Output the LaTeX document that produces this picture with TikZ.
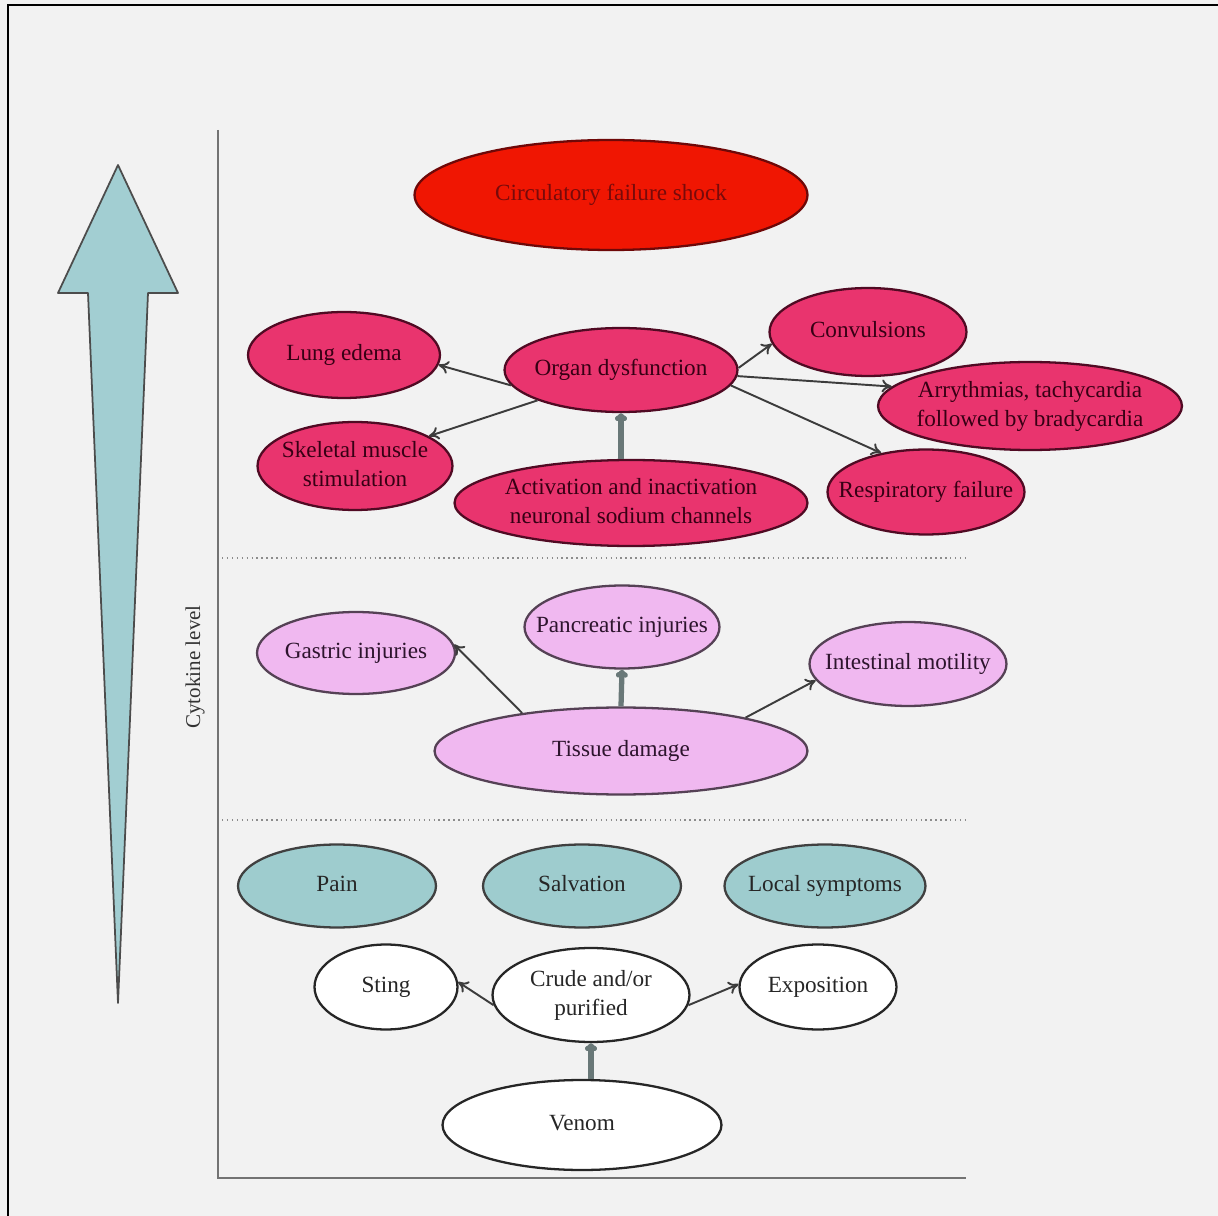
\documentclass[tikz,border=0pt]{standalone}
\usepackage{fontspec}
\setmainfont{Liberation Serif}
\usepackage{xcolor}
\usepackage{tikz}
\usetikzlibrary{arrows.meta, shapes.geometric}

\definecolor{paper}{RGB}{242,242,242}
\definecolor{shockred}{RGB}{240,22,2}
\definecolor{shockline}{RGB}{110,8,8}
\definecolor{shocktext}{RGB}{120,10,10}
\definecolor{organpink}{RGB}{233,52,110}
\definecolor{organline}{RGB}{80,10,35}
\definecolor{organtext}{RGB}{55,0,20}
\definecolor{tissuepink}{RGB}{240,184,240}
\definecolor{tissueline}{RGB}{85,65,85}
\definecolor{tissuetext}{RGB}{45,20,45}
\definecolor{localteal}{RGB}{158,204,206}
\definecolor{levelteal}{RGB}{162,206,210}
\definecolor{axisgray}{RGB}{115,115,115}
\definecolor{linkgray}{RGB}{60,60,60}
\definecolor{shaftgray}{RGB}{105,120,120}

% text centred in an oval without widening it
\newcommand{\otext}[1]{\makebox[0pt]{\begin{tabular}{@{}c@{}}#1\end{tabular}}}

\begin{document}
\begin{tikzpicture}[
  x=0.02cm, y=-0.02cm,
  oval/.style={ellipse, draw, line width=1.3pt, inner sep=0pt, font=\fontsize{13.2}{17}\selectfont},
  shockov/.style={oval, fill=shockred, draw=shockline, text=shocktext},
  organov/.style={oval, fill=organpink, draw=organline, text=organtext},
  tissueov/.style={oval, fill=tissuepink, draw=tissueline, text=tissuetext},
  localov/.style={oval, fill=localteal, draw=black!75, text=black!85},
  startov/.style={oval, fill=white, draw=black!85, text=black!85},
  arrow/.style={-{To[length=2mm, width=2.6mm]}, line width=1.1pt, draw=linkgray},
  shaft/.style={-{To[length=1.6mm, width=2.4mm]}, line width=3pt, draw=shaftgray},
  layer/.style={dotted, line width=0.8pt, draw=black!45},
  axisline/.style={line width=1.7pt, draw=axisgray}
]
\fill[paper] (0,0) rectangle (1218,1216);
\useasboundingbox (0,0) rectangle (1218,1216);
\draw[line width=1.7pt] (8,1216) -- (8,5) -- (1218,5);

% cytokine level arrow and axes
\filldraw[fill=levelteal, draw=black!70, line width=1pt, line join=round]
  (118,165) -- (178,293) -- (148,293) -- (118,1003) -- (88,293) -- (58,293) -- cycle;
\node[rotate=90, font=\fontsize{12}{14}\selectfont, text=black!80] (cyto) at (195,667) {Cytokine level};
\draw[axisline] (218,130) -- (218,1178) -- (966,1178);
\draw[layer] (222,558) -- (965,558);
\draw[layer] (222,820) -- (965,820);

% systemic level
\node[shockov, minimum width=7.86cm, minimum height=2.2cm] (shock) at (611,195) {\otext{Circulatory failure shock}};
\node[organov, minimum width=3.84cm, minimum height=1.72cm] (lung) at (344,355) {\otext{Lung edema}};
\node[organov, minimum width=4.66cm, minimum height=1.68cm] (organ) at (621,370) {\otext{Organ dysfunction}};
\node[organov, minimum width=3.94cm, minimum height=1.76cm] (conv) at (868,332) {\otext{Convulsions}};
\node[organov, minimum width=6.08cm, minimum height=1.76cm] (arry) at (1030,406) {\otext{Arrythmias, tachycardia\\followed by bradycardia}};
\node[organov, minimum width=3.9cm, minimum height=1.76cm] (skel) at (355,466) {\otext{Skeletal muscle\\stimulation}};
\node[organov, minimum width=7.06cm, minimum height=1.72cm] (act) at (631,503) {\otext{Activation and inactivation\\neuronal sodium channels}};
\node[organov, minimum width=3.94cm, minimum height=1.7cm] (resp) at (926,492) {\otext{Respiratory failure}};

\draw[arrow] (organ.188) -- (lung.-6);
\draw[arrow] (organ.200) -- (skel.22);
\draw[arrow] (organ.1) -- (conv.187);
\draw[arrow] (organ.-3) -- (arry.172);
\draw[arrow] (organ.-8) -- (resp.139);
\draw[shaft] (act.north -| organ.south) -- (organ.south);

% tissue level
\node[tissueov, minimum width=3.96cm, minimum height=1.64cm] (gastric) at (356,653) {\otext{Gastric injuries}};
\node[tissueov, minimum width=3.9cm, minimum height=1.66cm] (panc) at (622,627) {\otext{Pancreatic injuries}};
\node[tissueov, minimum width=3.94cm, minimum height=1.68cm] (intest) at (908,664) {\otext{Intestinal motility}};
\node[tissueov, minimum width=7.46cm, minimum height=1.74cm] (tissue) at (621,751) {\otext{Tissue damage}};

\draw[arrow] (tissue.159) -- (gastric.5);
\draw[shaft] (tissue.north) -- (panc.south);
\draw[arrow] (tissue.15) -- (intest.190);

% local level
\node[localov, minimum width=3.96cm, minimum height=1.66cm] (pain) at (337,886) {\otext{Pain}};
\node[localov, minimum width=3.96cm, minimum height=1.66cm] (saliv) at (582,886) {\otext{Salvation}};
\node[localov, minimum width=4.02cm, minimum height=1.66cm] (local) at (825,886) {\otext{Local symptoms}};
\node[startov, minimum width=2.86cm, minimum height=1.7cm] (sting) at (386,987) {\otext{Sting}};
\node[startov, minimum width=3.94cm, minimum height=1.88cm] (crude) at (591,995) {\otext{Crude and/or\\purified}};
\node[startov, minimum width=3.14cm, minimum height=1.7cm] (expo) at (818,987) {\otext{Exposition}};
\node[startov, minimum width=5.58cm, minimum height=1.8cm] (venom) at (582,1125) {\otext{Venom}};

\draw[arrow] (crude.186) -- (sting.4);
\draw[arrow] (crude.-6) -- (expo.178);
\draw[shaft] (venom.north -| crude.south) -- (crude.south);
\end{tikzpicture}
\end{document}
